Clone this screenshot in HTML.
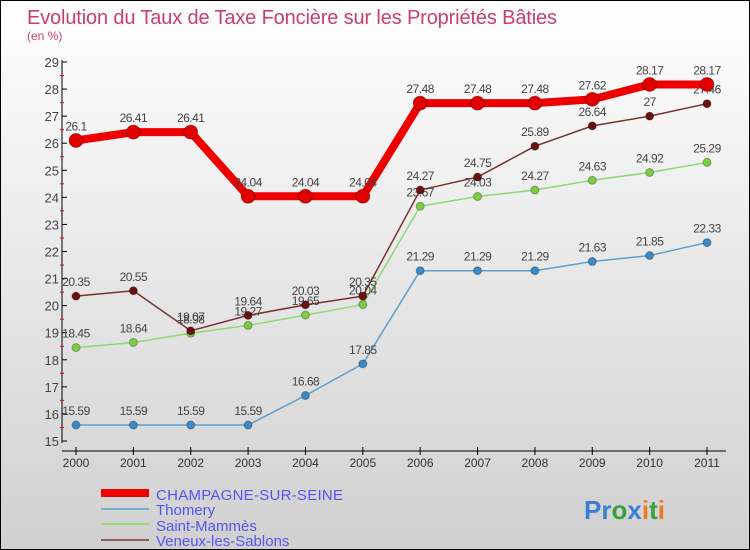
<!DOCTYPE html>
<html><head><meta charset="utf-8"><style>
body{margin:0}
#c{width:750px;height:550px;position:relative;overflow:hidden;box-sizing:border-box;border:1px solid #000;background:linear-gradient(#ffffff,#d0d0d0);font-family:"Liberation Sans",sans-serif}
</style></head><body>
<div id="c">
<svg id="s" width="750" height="550" style="position:absolute;left:0;top:0">
<text x="26" y="23" font-size="20" fill="#c8406a" textLength="530">Evolution du Taux de Taxe Foncière sur les Propriétés Bâties</text>
<text x="26" y="39" font-size="12" fill="#c8406a">(en %)</text>
<g id="g"></g>
<g>
<rect x="100" y="488" width="48" height="8" fill="#ee0000"/>
<rect x="100" y="507" width="48" height="2" fill="#7aaed0"/>
<rect x="100" y="522" width="48" height="2" fill="#9ad87a"/>
<rect x="100" y="538" width="48" height="2" fill="#8a6060"/>
<text x="155" y="499" font-size="15" fill="#5555ee" textLength="187">CHAMPAGNE-SUR-SEINE</text>
<text x="155" y="514" font-size="15" fill="#5555ee">Thomery</text>
<text x="155" y="530" font-size="15" fill="#5555ee">Saint-Mammès</text>
<text x="155" y="545" font-size="15" fill="#5555ee">Veneux-les-Sablons</text>
</g>
<g font-size="26" font-weight="bold">
<text x="583" y="518"><tspan fill="#3a7fd0">Pr</tspan><tspan fill="#3aa040">o</tspan><tspan fill="#3a7fd0">x</tspan><tspan fill="#f07a20">i</tspan><tspan fill="#3aa040">t</tspan><tspan fill="#f07a20">i</tspan></text>
</g>
</svg>
</div>
<script>
const years=["2000","2001","2002","2003","2004","2005","2006","2007","2008","2009","2010","2011"];
const champagne=[26.1,26.41,26.41,24.04,24.04,24.04,27.48,27.48,27.48,27.62,28.17,28.17];
const thomery=[15.59,15.59,15.59,15.59,16.68,17.85,21.29,21.29,21.29,21.63,21.85,22.33];
const saintMammes=[18.45,18.64,18.98,19.27,19.65,20.04,23.67,24.03,24.27,24.63,24.92,25.29];
const veneux=[20.35,20.55,19.07,19.64,20.03,20.35,24.27,24.75,25.89,26.64,27,27.46];
const yTicks=[15,16,17,18,19,20,21,22,23,24,25,26,27,28,29];
const NS="http://www.w3.org/2000/svg",g=document.getElementById('g');
const X=i=>75+i*(706-75)/(years.length-1);
const Y=v=>440-(v-15)*(440-61)/14;
function el(t,a){const e=document.createElementNS(NS,t);for(const k in a)e.setAttribute(k,a[k]);g.appendChild(e);return e;}
let e=el('line',{x1:61,y1:59,x2:61,y2:442,stroke:'#000'});

e=el('line',{x1:61,y1:450,x2:725,y2:450,stroke:'#000'});

yTicks.forEach(v=>{
 e=el('line',{x1:61,y1:Y(v),x2:66,y2:Y(v),stroke:'#000'});
 
 if(v<29){e=el('line',{x1:59,y1:Y(v+0.5),x2:63,y2:Y(v+0.5),stroke:'#e00'});
 }
 e=el('text',{x:58,y:Y(v)+5,'font-size':13,fill:'#444','text-anchor':'end'});e.textContent=v;
 
});
years.forEach((y,i)=>{
 e=el('line',{x1:X(i),y1:446,x2:X(i),y2:454,stroke:'#000'});
 
 e=el('text',{x:X(i),y:466,'font-size':12,fill:'#333','text-anchor':'middle'});e.textContent=y;
 
});
function series(d,name,col,dot,w,r){
 e=el('polyline',{points:d.map((v,i)=>X(i)+','+Y(v)).join(' '),fill:'none',stroke:col,'stroke-width':w,'stroke-linejoin':'round'});
 
 d.forEach((v,i)=>{
  e=el('circle',{cx:X(i),cy:Y(v),r:r,fill:dot,stroke:'rgba(0,0,0,0.3)'});
  
  e=el('text',{x:X(i),y:Y(v)-10,'font-size':12,fill:'#444','text-anchor':'middle','letter-spacing':'-0.5'});e.textContent=v;
  
 });
}
series(thomery,'thomery','#5ba0d0','#3a8ac8',1.5,4);
series(saintMammes,'saint-mammes','#8fd870','#7ccc44',1.5,4);
series(veneux,'veneux','#7a3030','#6a1010',1.5,4);
series(champagne,'champagne','#ee0000','#e00000',8,7);
</script>
</body></html>
